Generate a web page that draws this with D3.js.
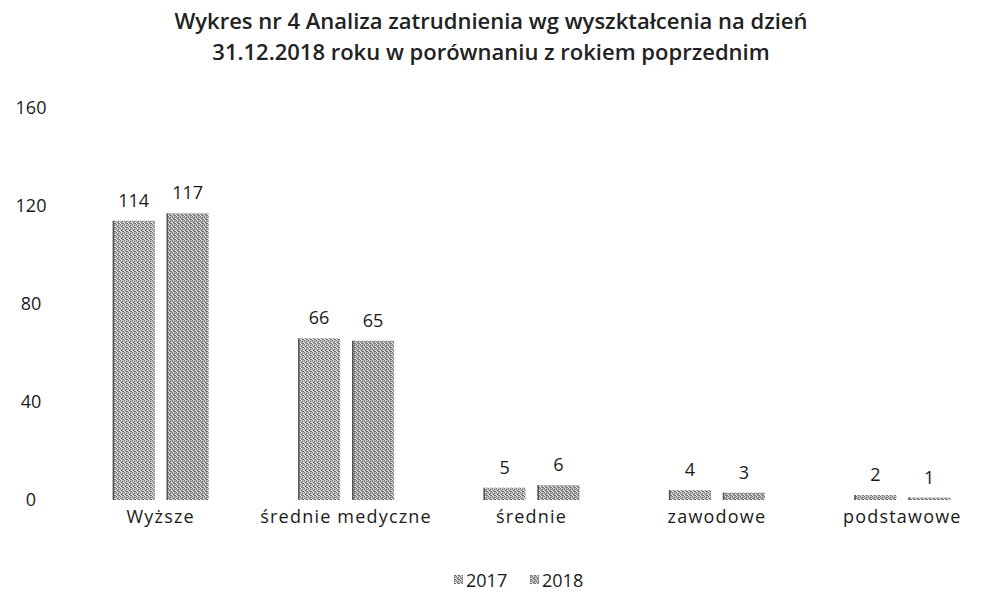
<!DOCTYPE html>
<html><head><meta charset="utf-8">
<script src="https://cdn.jsdelivr.net/npm/d3@7"></script>
<style>body{margin:0;background:#fff}svg{display:block;font-family:"Open Sans",sans-serif}</style>
</head><body><svg id="c" width="981" height="594"></svg>
<script>
const categories = ["Wyższe","średnie medyczne","średnie","zawodowe","podstawowe"];
const series = ["2017","2018"];
const values2017 = [114,66,5,4,2];
const values2018 = [117,65,6,3,1];
const yTicks = [0,40,80,120,160];
const titleLines = ["Wykres nr 4 Analiza zatrudnienia wg wyszktałcenia na dzień","31.12.2018 roku w porównaniu z rokiem poprzednim"];

const svg = d3.select("#c");
const defs = svg.append("defs");
function mkPattern(id, base){
  const p = defs.append("pattern").attr("id",id).attr("patternUnits","userSpaceOnUse").attr("width",4).attr("height",4);
  p.append("rect").attr("width",4).attr("height",4).attr("fill",base);
  [[0,0],[2,1],[1,2],[3,3],[2,3]].forEach(([x,y])=>p.append("rect").attr("x",x).attr("y",y).attr("width",1).attr("height",1).attr("fill","#707070"));
  [[1,0],[3,2],[0,3]].forEach(([x,y])=>p.append("rect").attr("x",x).attr("y",y).attr("width",1).attr("height",1).attr("fill","#e8e8e8"));
  return "url(#"+id+")";
}
const fills = [mkPattern("p17","#b8b8b8"), mkPattern("p18","#acacac")];

const x0 = d3.scaleBand().domain(categories).range([68,995]);
const x1 = d3.scaleBand().domain(series).range([-48,48]).paddingInner(0.22);
const y = d3.scaleLinear().domain([0,160]).range([500,108]);

const t = svg.append("text").attr("text-anchor","middle").attr("font-size",22).attr("font-weight",600).attr("fill","#222");
titleLines.forEach((l,i)=>t.append("tspan").attr("x",491).attr("y",29+i*31).text(l));

const yAxis = svg.append("g").attr("transform","translate(31,0)")
  .call(d3.axisLeft(y).tickValues(yTicks).tickSize(0).tickPadding(0));
yAxis.select(".domain").remove();
yAxis.selectAll("text").attr("font-size",18).attr("font-family","'Open Sans',sans-serif").attr("fill","#1a1a1a").attr("text-anchor","middle");

const xAxis = svg.append("g").attr("transform","translate(0,500)")
  .call(d3.axisBottom(x0).tickSize(0).tickPadding(10));
xAxis.select(".domain").remove();
xAxis.selectAll("text").attr("font-size",18).attr("font-family","'Open Sans',sans-serif").attr("letter-spacing","1.2px").attr("fill","#1a1a1a");

const data = [values2017, values2018];
const g = svg.append("g");
categories.forEach((c,ci)=>{
  const cx = x0(c)+x0.bandwidth()/2;
  series.forEach((s,si)=>{
    const v = data[si][ci];
    const bx = cx + x1(s);
    g.append("rect").attr("x",bx).attr("y",y(v)).attr("width",x1.bandwidth()).attr("height",y(0)-y(v)).attr("fill",fills[si]);
    g.append("rect").attr("x",bx).attr("y",y(v)).attr("width",1.5).attr("height",y(0)-y(v)).attr("fill","#555");
    g.append("text").attr("x",bx+x1.bandwidth()/2).attr("y",y(v)-14).attr("text-anchor","middle")
      .attr("font-size",18).attr("fill","#1a1a1a").text(v);
  });
});

const leg = svg.append("g");
const legX = [454,530];
series.forEach((s,i)=>{
  leg.append("rect").attr("x",legX[i]).attr("y",575).attr("width",9).attr("height",9).attr("fill",fills[i]);
  leg.append("text").attr("x",legX[i]+12).attr("y",587).attr("font-size",18).attr("fill","#1a1a1a").text(s);
});
</script></body></html>
